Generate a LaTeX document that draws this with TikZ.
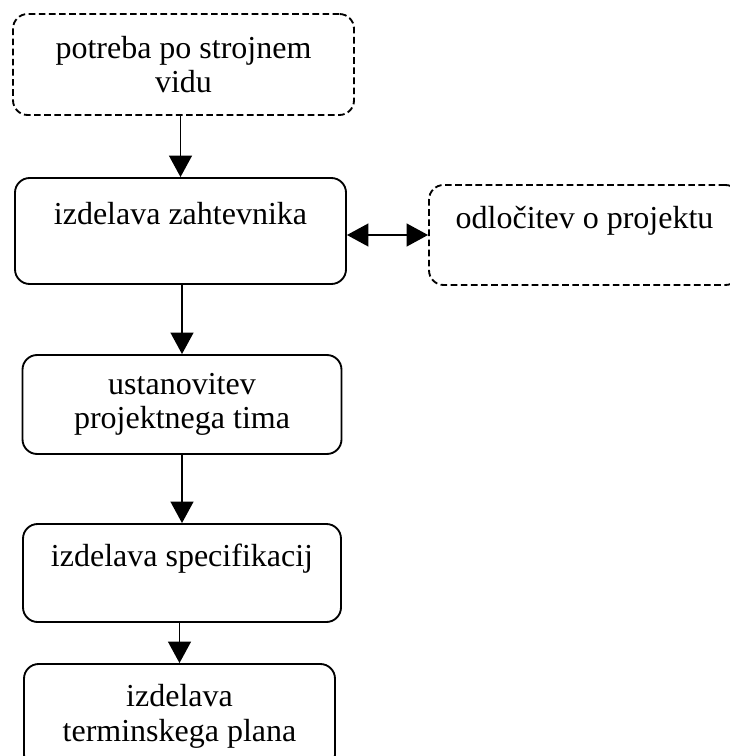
\documentclass[tikz,border=0pt]{standalone}
\usepackage{fontspec}
\setmainfont{Liberation Serif}
\usetikzlibrary{arrows.meta}

\begin{document}
\begin{tikzpicture}[x=0.75pt, y=-0.75pt, line width=1.4pt,
        every node/.style={font=\fontsize{24}{26}\selectfont, align=center, inner sep=0pt},
        stage/.style={draw, rounded corners=11pt},
        idea/.style={stage, dash pattern=on 5pt off 2.6pt},
        tip/.style={Triangle[length=16pt, width=17pt]},
        flow/.style={-{Triangle[length=16pt, width=17pt]}}]
        \useasboundingbox (0,0) rectangle (730,756);
        \clip (0,0) rectangle (730,756);
        \node[idea, minimum width=255.75pt, minimum height=75.75pt] (need) at (183.5,64.5) {potreba po strojnem\\vidu};
        \node[stage, minimum width=248.25pt, minimum height=79.5pt] (reqs) at (180.5,231) {izdelava zahtevnika\\\mbox{}};
        \node[idea, minimum width=233.25pt, minimum height=75pt] (decide) at (584.5,235) {odločitev o projektu\\\mbox{}};
        \node[stage, minimum width=239.25pt, minimum height=74.25pt] (team) at (182,404.5) {ustanovitev\\projektnega tima};
        \node[stage, minimum width=238.5pt, minimum height=73.5pt] (spec) at (182,573) {izdelava specifikacij\\\mbox{}};
        \node[stage, minimum width=233.25pt, minimum height=78.75pt] (plan) at (179.5,716.5) {izdelava\\terminskega plana};
        \foreach \from/\to in {need/reqs, reqs/team, team/spec, spec/plan}
            \draw[flow] (\to.north |- \from.south) -- (\to.north);
        \draw[{Triangle[length=16pt, width=17pt]}-{Triangle[length=16pt, width=17pt]}] (decide.west -| reqs.east) -- (decide.west);
    \end{tikzpicture}
\end{document}
